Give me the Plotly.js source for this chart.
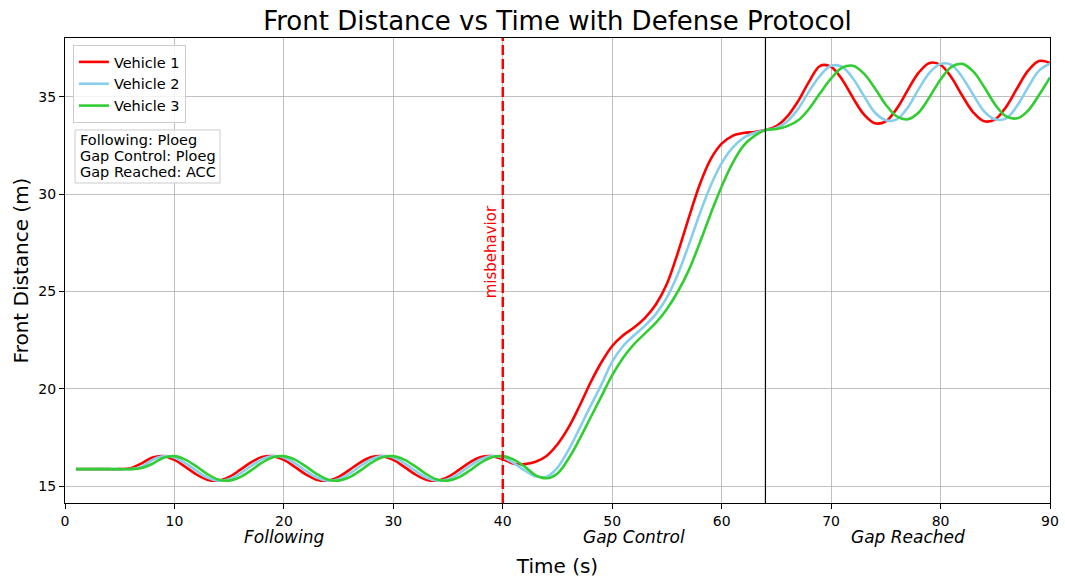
<!DOCTYPE html>
<html>
<head>
<meta charset="utf-8">
<script src="https://cdn.plot.ly/plotly-3.0.1.min.js"></script>
<style>html,body{margin:0;padding:0;background:#fff;}#chart{width:1065px;height:584px;}</style>
</head>
<body>
<div id="chart"></div>
<script>
// Time (s)
var time = [];
for (var i = 1; i <= 90; i++) time.push(i);

var vehicle1 = [15.87,15.87,15.87,15.87,15.87,15.92,16.17,16.47,16.54,16.35,
  15.99,15.60,15.33,15.28,15.47,15.83,16.22,16.49,16.54,16.35,
  15.99,15.60,15.33,15.28,15.47,15.83,16.22,16.49,16.54,16.35,
  15.99,15.60,15.33,15.28,15.47,15.83,16.22,16.49,16.54,16.38,
  16.15,16.13,16.25,16.55,17.15,18.0,19.1,20.3,21.35,22.2,
  22.75,23.15,23.65,24.35,25.4,27.0,28.8,30.5,31.8,32.6,
  33.0,33.15,33.2,33.3,33.5,34.0,34.8,35.8,36.6,36.55,
  35.9,34.95,34.1,33.65,33.75,34.4,35.35,36.25,36.75,36.65,
  36.0,35.05,34.2,33.75,33.85,34.5,35.45,36.35,36.85,36.75];

var vehicle2 = [15.87,15.87,15.87,15.87,15.87,15.87,16.0,16.35,16.54,16.47,
  16.18,15.79,15.44,15.28,15.35,15.64,16.03,16.38,16.54,16.47,
  16.18,15.79,15.44,15.28,15.35,15.64,16.03,16.38,16.54,16.47,
  16.18,15.79,15.44,15.28,15.35,15.64,16.03,16.38,16.54,16.47,
  16.18,15.8,15.5,15.48,15.95,16.85,17.95,19.1,20.2,21.4,
  22.2,22.75,23.25,23.85,24.7,25.9,27.4,29.0,30.45,31.6,
  32.4,32.9,33.15,33.3,33.4,33.75,34.4,35.3,36.1,36.6,
  36.55,35.95,35.05,34.2,33.8,33.85,34.45,35.4,36.25,36.7,
  36.65,36.0,35.1,34.25,33.85,33.9,34.55,35.5,36.35,36.72];

var vehicle3 = [15.87,15.87,15.87,15.87,15.87,15.87,15.93,16.15,16.46,16.54,
  16.36,16.01,15.62,15.34,15.28,15.46,15.81,16.2,16.48,16.54,
  16.36,16.01,15.62,15.34,15.28,15.46,15.81,16.2,16.48,16.54,
  16.36,16.01,15.62,15.34,15.28,15.46,15.81,16.2,16.48,16.54,
  16.36,16.0,15.55,15.4,15.65,16.4,17.4,18.5,19.6,20.7,
  21.6,22.3,22.85,23.4,24.1,25.0,26.1,27.5,29.0,30.4,
  31.6,32.5,33.0,33.3,33.35,33.5,33.8,34.4,35.2,35.95,
  36.5,36.6,36.2,35.45,34.6,34.0,33.85,34.2,35.0,35.9,
  36.55,36.7,36.3,35.5,34.6,34.0,33.9,34.3,35.1,36.0];

var seriesNames = ["Vehicle 1", "Vehicle 2", "Vehicle 3"];
var seriesColors = ["#ff0000", "#87ceeb", "#32cd32"];

var xTicks = [0,10,20,30,40,50,60,70,80,90];
var yTicks = [15,20,25,30,35];

var misbehaviorTime = 40;
var gapReachedTime = 64;
var phaseLabels = ["Following", "Gap Control", "Gap Reached"];
var phaseCenters = [20, 52, 77];
var settingsText = ["Following: Ploeg", "Gap Control: Ploeg", "Gap Reached: ACC"];

var FONT = "DejaVu Sans, Liberation Sans, sans-serif";

var allSeries = [vehicle1, vehicle2, vehicle3];
var traces = allSeries.map(function(v, k) {
  return {
    x: time, y: v, type: "scatter", mode: "lines",
    name: seriesNames[k],
    line: {color: seriesColors[k], width: 2.6, shape: "spline", smoothing: 1}
  };
});

var annotations = [
  {x: 38.9, y: 27.05, xref: "x", yref: "y", text: "misbehavior", textangle: -90,
   showarrow: false, font: {family: FONT, size: 15, color: "#ff0000"}, xanchor: "center", yanchor: "middle"}
];
// settings box text lines
var boxLineY = [0.7796, 0.7452, 0.7108];
settingsText.forEach(function(t, k) {
  annotations.push({x: 0.0132, y: boxLineY[k], xref: "paper", yref: "paper", xanchor: "left", yanchor: "middle",
    text: t, showarrow: false, font: {family: FONT, size: 14.5, color: "#000"}});
});
phaseLabels.forEach(function(lbl, k) {
  annotations.push({x: phaseCenters[k], y: -0.073, xref: "x", yref: "paper",
    text: "<i>" + lbl + "</i>", showarrow: false, xanchor: "center", yanchor: "middle",
    font: {family: FONT, size: 17, color: "#000"}});
});

var layout = {
  width: 1065, height: 584,
  margin: {l: 65, r: 15, t: 38, b: 81},
  paper_bgcolor: "#fff", plot_bgcolor: "#fff",
  font: {family: FONT, color: "#000"},
  title: {text: "Front Distance vs Time with Defense Protocol", font: {family: FONT, size: 26, color: "#000"},
          x: 0.5, xref: "paper", xanchor: "center", y: 0.964, yref: "container", yanchor: "middle"},
  xaxis: {range: [0, 90], tickvals: xTicks, ticktext: xTicks.map(String),
    showgrid: true, gridcolor: "#b0b0b0", gridwidth: 0.8, zeroline: false,
    showline: true, linecolor: "#000", linewidth: 1, mirror: true,
    ticks: "outside", ticklen: 5, tickwidth: 1, tickcolor: "#000",
    tickfont: {family: FONT, size: 14, color: "#000"},
    title: {text: "Time (s)", font: {family: FONT, size: 20, color: "#000"}, standoff: 31}},
  yaxis: {range: [14.13, 38.03], tickvals: yTicks, ticktext: yTicks.map(String),
    showgrid: true, gridcolor: "#b0b0b0", gridwidth: 0.8, zeroline: false,
    showline: true, linecolor: "#000", linewidth: 1, mirror: true,
    ticks: "outside", ticklen: 5, tickwidth: 1, tickcolor: "#000",
    tickfont: {family: FONT, size: 14, color: "#000"},
    title: {text: "Front Distance (m)", font: {family: FONT, size: 20, color: "#000"}, standoff: 4}},
  legend: {x: 0.008, y: 0.985, xanchor: "left", yanchor: "top",
    bgcolor: "rgba(255,255,255,0.8)", bordercolor: "#cccccc", borderwidth: 1,
    font: {family: FONT, size: 14.5, color: "#000"}},
  showlegend: true,
  shapes: [
    {type: "rect", xref: "paper", yref: "paper", x0: 0.0102, x1: 0.1574, y0: 0.6882, y1: 0.8022,
     fillcolor: "rgba(255,255,255,0.8)", line: {color: "#cccccc", width: 1}, layer: "above"},
    {type: "line", xref: "x", yref: "paper", x0: misbehaviorTime, x1: misbehaviorTime, y0: 0, y1: 1,
     line: {color: "#ff0000", width: 2.5, dash: "10px,4px"}},
    {type: "line", xref: "x", yref: "paper", x0: gapReachedTime, x1: gapReachedTime, y0: 0, y1: 1,
     line: {color: "#000", width: 1.2}}
  ],
  annotations: annotations
};

Plotly.newPlot("chart", traces, layout, {displayModeBar: false, staticPlot: true});
</script>
</body>
</html>
